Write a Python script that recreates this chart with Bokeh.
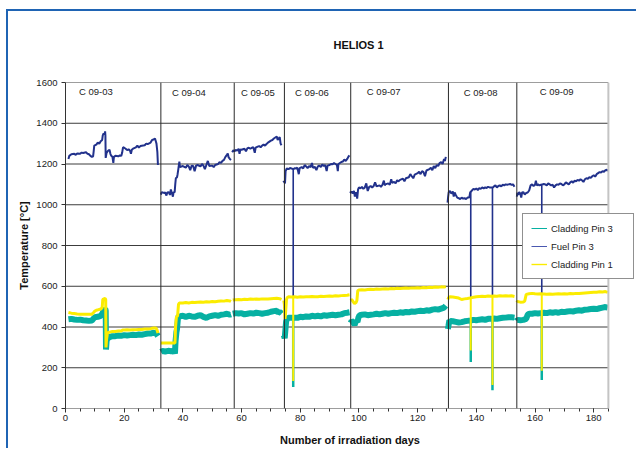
from bokeh.plotting import figure
from bokeh.models import FixedTicker, Span, LabelSet, ColumnDataSource, Legend, LegendItem, Range1d
from bokeh.core.properties import value
from bokeh.embed import file_html
from bokeh.resources import INLINE

NAN = float("nan")

# ---------------- data ----------------
x_ticks = [0, 20, 40, 60, 80, 100, 120, 140, 160, 180]
x_minor_ticks = list(range(0, 186, 5))
y_ticks = [0, 200, 400, 600, 800, 1000, 1200, 1400, 1600]
last_day = 185

campaign_names = ["C 09-03", "C 09-04", "C 09-05", "C 09-06", "C 09-07", "C 09-08", "C 09-09"]
campaign_label_days = [4.6, 36.3, 59.8, 78.2, 102.7, 135.7, 161.6]
campaign_label_temp = [1555, 1553, 1553, 1553, 1557, 1550, 1557]
campaign_boundaries = [32.5, 57.5, 74.6, 97.2, 130.5, 153.8]

fuel_pin3 = [
    (1.0, 1225), (1.3, 1240), (2.0, 1248), (3.0, 1250), (3.5, 1245), (4.0, 1252), (5.0, 1250), (5.5, 1256),
    (6.0, 1254), (7.0, 1258), (7.5, 1250), (8.0, 1248), (8.5, 1240), (9.0, 1235), (9.4, 1238), (9.6, 1262),
    (9.8, 1290), (10.5, 1295), (11.0, 1305), (11.5, 1300), (12.0, 1312), (12.5, 1318), (12.7, 1340), (13.0, 1350),
    (13.3, 1345), (13.5, 1360), (13.6, 1340), (13.7, 1230), (14.0, 1255), (14.5, 1265), (15.0, 1270), (15.3, 1250),
    (15.6, 1240), (16.0, 1235), (16.3, 1205), (16.5, 1235), (17.0, 1240), (18.0, 1238), (18.5, 1242), (19.0, 1240),
    (19.3, 1255), (19.6, 1282), (20.0, 1280), (20.5, 1275), (21.0, 1268), (21.5, 1272), (22.0, 1265), (22.3, 1250),
    (22.6, 1270), (23.0, 1275), (24.0, 1282), (24.5, 1290), (25.0, 1280), (25.5, 1288), (26.0, 1290), (27.0, 1292),
    (27.5, 1300), (28.0, 1298), (29.0, 1305), (29.5, 1318), (30.0, 1320), (30.5, 1325), (30.8, 1310), (31.0, 1300),
    (31.3, 1260), (31.5, 1195), (NAN, NAN),
    (32.5, 1050), (32.8, 1062), (33.5, 1058), (34.0, 1060), (34.4, 1045), (34.7, 1060), (35.2, 1062), (35.6, 1048),
    (35.9, 1075), (36.2, 1060), (36.6, 1040), (36.8, 1060), (37.2, 1062), (37.4, 1100), (37.6, 1130), (38.0, 1135),
    (38.2, 1150), (38.5, 1180), (38.8, 1212), (39.0, 1185), (40.0, 1190), (41.0, 1182), (41.5, 1195), (42.0, 1188),
    (42.5, 1170), (43.0, 1192), (43.5, 1190), (44.0, 1165), (44.5, 1192), (45.0, 1195), (46.0, 1188), (46.5, 1200),
    (47.0, 1192), (47.5, 1175), (48.0, 1195), (48.5, 1215), (49.0, 1190), (50.0, 1192), (50.5, 1185), (51.0, 1195),
    (52.0, 1200), (52.5, 1210), (53.0, 1205), (53.5, 1215), (54.0, 1220), (54.5, 1235), (55.0, 1245), (55.3, 1252),
    (55.6, 1232), (56.0, 1225), (56.4, 1220), (NAN, NAN),
    (56.8, 1258), (57.2, 1268), (57.6, 1262), (58.0, 1270), (58.5, 1265), (59.0, 1275), (59.3, 1250), (59.6, 1272),
    (60.0, 1270), (61.0, 1275), (61.5, 1262), (62.0, 1278), (62.5, 1280), (63.0, 1275), (63.5, 1280), (64.0, 1282),
    (64.5, 1255), (64.8, 1280), (65.5, 1285), (66.0, 1288), (66.5, 1282), (67.0, 1290), (67.5, 1295), (68.0, 1290),
    (68.5, 1298), (69.0, 1305), (69.5, 1310), (70.0, 1315), (70.5, 1318), (71.0, 1325), (71.5, 1330), (72.0, 1335),
    (72.3, 1318), (72.6, 1325), (73.0, 1332), (73.3, 1300), (73.6, 1292), (NAN, NAN),
    (74.2, 1110), (74.5, 1115), (74.8, 1105), (75.0, 1165), (75.4, 1178), (76.0, 1175), (76.5, 1180), (77.0, 1178),
    (77.4, 1176), (77.8, 1176), (78.2, 1180), (78.6, 1178), (79.0, 1182), (79.5, 1150), (79.8, 1180), (80.5, 1185),
    (81.0, 1178), (81.5, 1195), (82.0, 1188), (82.5, 1180), (83.0, 1190), (83.5, 1185), (84.0, 1205), (84.3, 1182),
    (85.0, 1185), (85.5, 1170), (86.0, 1188), (86.5, 1192), (87.0, 1185), (87.5, 1198), (88.0, 1190), (88.5, 1195),
    (89.0, 1165), (89.3, 1192), (90.0, 1195), (90.5, 1200), (91.0, 1198), (91.5, 1205), (92.0, 1200), (92.5, 1195),
    (92.8, 1165), (93.0, 1200), (93.5, 1205), (94.0, 1210), (94.5, 1212), (95.0, 1222), (95.5, 1215), (96.0, 1225),
    (96.5, 1238), (96.8, 1242), (NAN, NAN),
    (97.0, 1065), (97.3, 1058), (97.6, 1065), (98.0, 1055), (98.3, 1068), (98.6, 1040), (99.0, 1062), (99.4, 1030),
    (99.7, 1075), (100.0, 1085), (100.5, 1080), (101.0, 1088), (101.5, 1078), (102.0, 1085), (102.5, 1105),
    (102.8, 1080), (103.0, 1068), (103.5, 1088), (104.0, 1092), (104.5, 1085), (105.0, 1092), (105.5, 1110),
    (106.0, 1090), (107.0, 1095), (107.5, 1088), (108.0, 1098), (108.5, 1118), (108.8, 1095), (109.0, 1100),
    (110.0, 1105), (110.5, 1098), (111.0, 1125), (111.3, 1108), (112.0, 1112), (112.5, 1105), (113.0, 1120),
    (113.5, 1115), (114.0, 1122), (115.0, 1128), (115.5, 1115), (116.0, 1130), (117.0, 1135), (117.5, 1150),
    (118.0, 1140), (118.5, 1130), (119.0, 1148), (120.0, 1155), (120.5, 1162), (121.0, 1150), (121.5, 1165),
    (122.0, 1160), (122.5, 1140), (123.0, 1168), (124.0, 1175), (124.5, 1182), (125.0, 1170), (125.5, 1190),
    (126.0, 1180), (126.5, 1195), (127.0, 1190), (127.5, 1205), (128.0, 1210), (128.5, 1200), (129.0, 1225),
    (129.3, 1215), (129.6, 1235), (NAN, NAN),
    (130.2, 1010), (130.4, 1040), (130.6, 1062), (131.0, 1068), (131.5, 1055), (132.0, 1065), (132.3, 1040),
    (132.6, 1060), (133.0, 1048), (133.5, 1035), (134.0, 1032), (134.5, 1028), (135.0, 1035), (135.5, 1030),
    (136.0, 1032), (136.5, 1028), (137.0, 1035), (137.6, 1035), (137.9, 1060), (138.2, 1065), (138.6, 1072),
    (139.0, 1078), (139.5, 1075), (140.0, 1080), (140.5, 1072), (141.0, 1082), (141.5, 1078), (142.0, 1085),
    (142.5, 1080), (143.0, 1085), (143.5, 1082), (144.0, 1088), (144.5, 1085), (145.0, 1085), (145.6, 1085),
    (146.0, 1090), (146.5, 1095), (147.0, 1085), (147.5, 1092), (148.0, 1095), (148.5, 1090), (149.0, 1098),
    (149.5, 1095), (150.0, 1100), (150.5, 1098), (151.0, 1100), (151.5, 1102), (152.0, 1098), (152.5, 1100),
    (153.0, 1088), (NAN, NAN),
    (153.8, 1040), (154.0, 1060), (154.3, 1048), (154.6, 1062), (155.0, 1055), (155.3, 1035), (155.6, 1060),
    (156.0, 1062), (156.5, 1050), (157.0, 1058), (157.5, 1060), (158.0, 1070), (158.5, 1095), (159.0, 1100),
    (159.5, 1092), (160.0, 1098), (160.3, 1118), (160.6, 1095), (161.0, 1100), (161.5, 1095), (162.0, 1098),
    (162.5, 1100), (163.0, 1102), (163.5, 1100), (164.0, 1095), (164.5, 1105), (165.0, 1100), (165.5, 1095),
    (166.0, 1098), (166.5, 1085), (167.0, 1095), (167.5, 1100), (168.0, 1098), (168.5, 1105), (169.0, 1102),
    (169.5, 1095), (170.0, 1100), (170.5, 1110), (171.0, 1105), (171.5, 1100), (172.0, 1110), (172.5, 1115),
    (173.0, 1108), (173.5, 1118), (174.0, 1115), (174.5, 1122), (175.0, 1118), (175.5, 1125), (176.0, 1120),
    (176.5, 1112), (177.0, 1125), (177.5, 1130), (178.0, 1128), (178.5, 1135), (179.0, 1132), (179.5, 1140),
    (180.0, 1145), (180.5, 1138), (181.0, 1150), (181.5, 1155), (182.0, 1160), (182.5, 1158), (183.0, 1165),
    (183.5, 1162), (184.0, 1170), (184.5, 1172), (184.8, 1165),
]

cladding_pin3 = [
    (1.0, 438), (2.0, 440), (3.0, 437), (4.0, 435), (5.0, 436), (6.0, 433), (7.0, 432), (8.0, 430), (9.0, 432),
    (9.5, 440), (10.0, 448), (11.0, 450), (12.0, 455), (12.5, 465), (13.0, 480), (13.5, 490), (13.7, 480),
    (13.8, 290), (14.0, 330), (14.3, 345), (15.0, 350), (16.0, 355), (17.0, 355), (18.0, 358), (19.0, 357),
    (20.0, 360), (21.0, 358), (22.0, 360), (23.0, 362), (24.0, 360), (25.0, 363), (26.0, 362), (27.0, 365),
    (28.0, 368), (29.0, 368), (30.0, 372), (30.8, 370), (31.2, 362), (31.5, 355), (NAN, NAN),
    (32.5, 278), (33.0, 282), (34.0, 280), (35.0, 283), (36.0, 281), (37.0, 283), (37.3, 270), (37.5, 330),
    (37.8, 375), (38.0, 390), (38.3, 440), (38.6, 455), (39.0, 452), (40.0, 455), (41.0, 450), (42.0, 455),
    (43.0, 452), (44.0, 450), (45.0, 455), (46.0, 458), (47.0, 450), (48.0, 445), (49.0, 452), (50.0, 455),
    (51.0, 458), (52.0, 455), (53.0, 460), (54.0, 462), (55.0, 465), (56.0, 460), (56.4, 462), (NAN, NAN),
    (57.0, 465), (58.0, 468), (59.0, 466), (60.0, 468), (61.0, 462), (62.0, 465), (63.0, 468), (64.0, 466),
    (65.0, 470), (66.0, 468), (67.0, 465), (68.0, 468), (69.0, 470), (70.0, 475), (71.0, 478), (72.0, 480),
    (72.5, 470), (73.0, 475), (73.6, 465), (NAN, NAN),
    (74.4, 360), (74.7, 345), (74.9, 380), (75.2, 430), (75.6, 440), (76.0, 445), (77.0, 445), (78.0, 446),
    (79.0, 445), (80.0, 450), (81.0, 448), (82.0, 452), (83.0, 450), (84.0, 455), (85.0, 452), (86.0, 455),
    (87.0, 452), (88.0, 458), (89.0, 455), (90.0, 458), (91.0, 460), (92.0, 458), (93.0, 460), (94.0, 462),
    (95.0, 468), (96.0, 470), (96.8, 472), (NAN, NAN),
    (97.2, 420), (97.5, 430), (98.0, 425), (98.5, 410), (99.0, 430), (99.5, 425), (99.8, 445), (100.2, 458),
    (101.0, 460), (102.0, 462), (103.0, 458), (104.0, 460), (105.0, 462), (106.0, 465), (107.0, 462),
    (108.0, 465), (109.0, 468), (110.0, 465), (111.0, 468), (112.0, 470), (113.0, 468), (114.0, 472),
    (115.0, 470), (116.0, 474), (117.0, 472), (118.0, 476), (119.0, 475), (120.0, 478), (121.0, 480),
    (122.0, 478), (123.0, 482), (124.0, 480), (125.0, 485), (126.0, 488), (127.0, 485), (128.0, 490),
    (129.0, 495), (129.6, 505), (NAN, NAN),
    (130.3, 390), (130.5, 405), (130.8, 432), (131.0, 430), (132.0, 428), (133.0, 425), (134.0, 422),
    (135.0, 424), (136.0, 428), (137.0, 430), (138.0, 432), (139.0, 435), (140.0, 433), (141.0, 436),
    (142.0, 438), (143.0, 435), (144.0, 440), (145.0, 440), (146.0, 442), (147.0, 440), (148.0, 443),
    (149.0, 445), (150.0, 446), (151.0, 448), (152.0, 448), (153.0, 446), (NAN, NAN),
    (153.8, 430), (154.0, 435), (155.0, 433), (156.0, 435), (157.0, 440), (157.5, 460), (158.0, 465),
    (159.0, 465), (160.0, 468), (161.0, 466), (162.0, 468), (163.0, 470), (164.0, 468), (165.0, 472),
    (166.0, 470), (167.0, 473), (168.0, 470), (169.0, 475), (170.0, 473), (171.0, 476), (172.0, 478),
    (173.0, 476), (174.0, 480), (175.0, 482), (176.0, 480), (177.0, 485), (178.0, 486), (179.0, 488),
    (180.0, 490), (181.0, 488), (182.0, 492), (183.0, 495), (184.0, 498), (184.8, 495),
]

cladding_pin1 = [
    (1.0, 471), (2.0, 468), (3.0, 466), (4.0, 464), (5.0, 463), (6.0, 463), (7.0, 462), (8.0, 463), (9.0, 463),
    (9.5, 470), (10.0, 478), (10.5, 482), (11.0, 484), (12.0, 488), (12.5, 495), (12.7, 535), (13.0, 538),
    (13.5, 540), (13.7, 535), (13.8, 300), (14.0, 340), (14.3, 370), (15.0, 375), (16.0, 378), (17.0, 378),
    (18.0, 380), (19.0, 380), (19.5, 385), (20.0, 385), (21.0, 386), (22.0, 385), (23.0, 387), (24.0, 386),
    (25.0, 388), (26.0, 388), (27.0, 390), (28.0, 390), (29.0, 392), (30.0, 395), (30.8, 395), (31.2, 385),
    (31.5, 370), (NAN, NAN),
    (32.5, 322), (33.0, 322), (34.0, 322), (35.0, 321), (36.0, 322), (37.0, 322), (37.3, 320), (37.5, 400),
    (37.8, 450), (38.2, 455), (38.5, 510), (38.8, 518), (40.0, 518), (41.0, 520), (42.0, 518), (43.0, 521),
    (44.0, 520), (45.0, 522), (46.0, 523), (47.0, 522), (48.0, 524), (49.0, 523), (50.0, 525), (51.0, 524),
    (52.0, 526), (53.0, 528), (54.0, 527), (55.0, 530), (56.0, 528), (56.4, 525), (NAN, NAN),
    (57.0, 532), (58.0, 534), (59.0, 535), (60.0, 534), (61.0, 536), (62.0, 535), (63.0, 537), (64.0, 536),
    (65.0, 537), (66.0, 536), (67.0, 538), (68.0, 537), (69.0, 538), (70.0, 539), (71.0, 540), (72.0, 541),
    (73.0, 539), (73.6, 535), (NAN, NAN),
    (74.4, 530), (74.6, 510), (74.8, 440), (75.0, 470), (75.3, 535), (75.6, 545), (76.0, 548), (77.0, 547),
    (78.0, 548), (79.0, 546), (80.0, 548), (81.0, 547), (82.0, 549), (83.0, 548), (84.0, 550), (85.0, 548),
    (86.0, 549), (87.0, 551), (88.0, 550), (89.0, 551), (90.0, 552), (91.0, 551), (92.0, 553), (93.0, 552),
    (94.0, 554), (95.0, 555), (96.0, 556), (96.8, 558), (NAN, NAN),
    (97.2, 530), (97.5, 535), (98.0, 525), (98.5, 515), (99.0, 520), (99.3, 530), (99.6, 578), (100.0, 582),
    (101.0, 583), (102.0, 582), (103.0, 584), (104.0, 585), (105.0, 584), (106.0, 586), (107.0, 585),
    (108.0, 587), (109.0, 588), (110.0, 587), (111.0, 589), (112.0, 588), (113.0, 590), (114.0, 589),
    (115.0, 590), (116.0, 591), (117.0, 590), (118.0, 592), (119.0, 591), (120.0, 593), (121.0, 592),
    (122.0, 594), (123.0, 593), (124.0, 595), (125.0, 594), (126.0, 596), (127.0, 595), (128.0, 597),
    (129.0, 596), (129.6, 598), (NAN, NAN),
    (130.3, 535), (130.6, 545), (131.0, 548), (132.0, 547), (133.0, 545), (134.0, 542), (135.0, 535),
    (136.0, 538), (137.0, 540), (138.0, 543), (139.0, 546), (140.0, 548), (141.0, 550), (142.0, 551),
    (143.0, 550), (144.0, 552), (145.0, 551), (146.0, 552), (147.0, 551), (148.0, 553), (149.0, 552),
    (150.0, 553), (151.0, 552), (152.0, 553), (153.0, 550), (NAN, NAN),
    (153.8, 520), (154.0, 525), (155.0, 522), (156.0, 523), (156.5, 528), (157.0, 560), (158.0, 563),
    (159.0, 565), (160.0, 563), (161.0, 562), (162.0, 563), (163.0, 562), (164.0, 561), (165.0, 562),
    (166.0, 561), (167.0, 562), (168.0, 563), (169.0, 562), (170.0, 563), (171.0, 562), (172.0, 564),
    (173.0, 563), (174.0, 565), (175.0, 564), (176.0, 566), (177.0, 567), (178.0, 568), (179.0, 569),
    (180.0, 570), (181.0, 571), (182.0, 573), (183.0, 572), (184.0, 574), (184.8, 570),
]

# short drops (day, level before, lowest level)
spike_days = [77.6, 138.1, 145.5, 162.3]
fuel_spike_top = [1176, 1060, 1085, 1098]
fuel_spike_low = [550, 545, 552, 565]
clad3_spike_top = [445, 433, 440, 468]
clad3_spike_low = [105, 228, 90, 140]
clad1_spike_top = [548, 543, 551, 563]
clad1_spike_low = [135, 285, 115, 185]

# ---------------- styling ----------------
FONT = "Liberation Sans"
TEAL = "#06b0a2"
NAVY = "#22328c"
YELLOW = "#fbec00"
GRID = "#3c3c3c"

# the frame is a bit wider than the last day so that the legend can sit over the right edge
p = figure(width=630, height=439, x_range=Range1d(0, 193.9), y_range=Range1d(0, 1600),
           output_backend="svg", toolbar_location=None, title="HELIOS 1\n ",
           min_border_left=57, min_border_right=4, min_border_top=71, min_border_bottom=42)

p.styles = {"margin-left": "6px", "margin-top": "9px",
            "border-left": "2px solid #1f64b4", "border-top": "2px solid #1f64b4"}

p.title.text_font = FONT
p.title.text_font_size = "11px"
p.title.text_font_style = "bold"
p.title.text_color = "#111111"
p.title.text_line_height = 2.2
p.title.align = "left"
p.title.offset = 268

p.outline_line_color = None
p.background_fill_color = "white"
p.border_fill_color = "white"

p.xaxis.ticker = FixedTicker(ticks=x_ticks, minor_ticks=x_minor_ticks)
p.yaxis.ticker = FixedTicker(ticks=y_ticks, minor_ticks=[])
p.xgrid.visible = False
p.ygrid.visible = False

for ax in (p.xaxis, p.yaxis):
    ax.axis_line_color = "#333333"
    ax.major_tick_line_color = "#333333"
    ax.minor_tick_line_color = "#333333"
    ax.major_tick_in = 0
    ax.major_tick_out = 4
    ax.minor_tick_in = 0
    ax.minor_tick_out = 3
    ax.major_label_text_font = FONT
    ax.major_label_text_font_size = "9.5px"
    ax.major_label_text_color = "#222222"
    ax.axis_label_text_font = FONT
    ax.axis_label_text_font_size = "11px"
    ax.axis_label_text_font_style = "bold"
    ax.axis_label_text_color = "#111111"

p.xaxis.axis_line_color = None
p.xaxis.axis_label = "Number of irradiation days"
p.yaxis.axis_label = "Temperature [°C]"
p.xaxis.major_label_standoff = 2
p.xaxis.axis_label_standoff = 10
p.yaxis.major_label_standoff = 4
p.yaxis.axis_label_standoff = 3

# horizontal grid lines (and the bottom axis line) only as far as the last day
p.segment(x0=[0] * len(y_ticks), y0=y_ticks, x1=[last_day] * len(y_ticks), y1=y_ticks,
          line_color=GRID, line_width=1)

# right frame edge (light grey) like the original
p.add_layout(Span(location=last_day, dimension="height", line_color="#c4c4c4", line_width=2))

for d in campaign_boundaries:
    p.add_layout(Span(location=d, dimension="height", line_color="#2a2a2a", line_width=1))


def unzip(pairs):
    return [a for a, _ in pairs], [b for _, b in pairs]


cx, cy = unzip(cladding_pin3)
fx, fy = unzip(fuel_pin3)
yx, yy = unzip(cladding_pin1)

p.line(cx, cy, line_color=TEAL, line_width=6)
p.segment(x0=spike_days, y0=clad3_spike_top, x1=spike_days, y1=clad3_spike_low, line_color=TEAL, line_width=2.5)
p.line(fx, fy, line_color=NAVY, line_width=2)
p.segment(x0=spike_days, y0=fuel_spike_top, x1=spike_days, y1=fuel_spike_low, line_color=NAVY, line_width=1.6)
p.line(yx, yy, line_color=YELLOW, line_width=3)
p.segment(x0=spike_days, y0=clad1_spike_top, x1=spike_days, y1=clad1_spike_low, line_color=YELLOW, line_width=2)

labels = ColumnDataSource(dict(x=campaign_label_days, y=campaign_label_temp, t=campaign_names))
p.add_layout(LabelSet(x="x", y="y", text="t", source=labels, text_font=value(FONT), text_font_size="9.5px",
                      text_color="#222222", text_baseline="middle", text_align="left"))

# legend with thin sample lines (renderers hold no visible point)
l1 = p.line([NAN], [NAN], line_color=TEAL, line_width=1)
l2 = p.line([NAN], [NAN], line_color="#4a58b0", line_width=1)
l3 = p.line([NAN], [NAN], line_color=YELLOW, line_width=1.4)
legend = Legend(items=[LegendItem(label="Cladding Pin 3", renderers=[l1]),
                       LegendItem(label="Fuel Pin 3", renderers=[l2]),
                       LegendItem(label="Cladding Pin 1", renderers=[l3])],
                location=(457, 129), orientation="vertical")
legend.label_text_font = FONT
legend.label_text_font_size = "9.5px"
legend.label_text_color = "#222222"
legend.border_line_color = "#222222"
legend.border_line_width = 1
legend.background_fill_color = "white"
legend.background_fill_alpha = 1
legend.padding = 8
legend.spacing = 6
legend.glyph_width = 16
legend.glyph_height = 12
legend.label_height = 12
legend.label_standoff = 4
legend.label_width = 74
legend.margin = 0
p.add_layout(legend)

open("out.html", "w").write(file_html(p, INLINE))
